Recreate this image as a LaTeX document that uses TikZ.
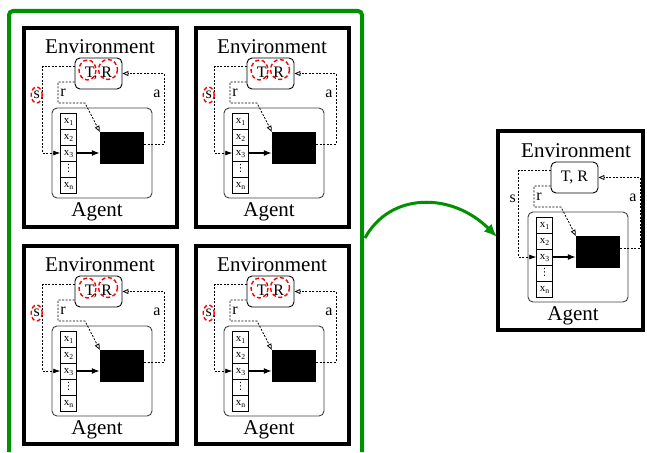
\documentclass[tikz,border=0pt]{standalone}
\usepackage{fontspec}
\setmainfont{Liberation Serif}
\newfontfamily\dotsfont{DejaVu Sans}
\usetikzlibrary{calc,arrows.meta}
\definecolor{figgreen}{RGB}{0,145,0}
\tikzset{
	frame/.style={line width=3.5pt},
	trbox/.style={draw, line width=0.9pt, rounded corners=5pt, minimum width=47pt, minimum height=31pt, inner sep=0pt, font=\fontsize{16}{16}\selectfont},
	agentbox/.style={draw=black!75, line width=0.9pt, rounded corners=5pt},
	cell/.style={draw, line width=0.8pt, minimum size=16pt, inner sep=0pt, text height=7pt, text depth=2pt, font=\fontsize{11}{11}\selectfont},
	blk/.style={fill=black, minimum width=44pt, minimum height=32pt, inner sep=0pt},
	big/.style={font=\fontsize{21}{21}\selectfont},
	lbl/.style={font=\fontsize{16}{16}\selectfont, inner sep=0pt},
	sig/.style={line width=0.8pt, dash pattern=on 2pt off 1.5pt},
	hl/.style={draw=red, line width=1.4pt, dash pattern=on 4pt off 2.5pt},
}
% one environment/agent box, contents only
\newcommand\agentpanel[3]{%
\begin{scope}[shift={(#2,#3)}]
	\node[big] (#1env) at (76,18.5) {Environment};
	\node[trbox] (#1tr) at (74.5,45.5) {T, R};
	\draw[agentbox] (28,80) rectangle (128,170);
	\foreach \i/\t in {1/{x\textsubscript{1}},2/{x\textsubscript{2}},3/{x\textsubscript{3}},4/{\dotsfont\fontsize{10}{10}\selectfont ⋮},5/{x\textsubscript{n}}}
		\node[cell] (#1x\i) at (44.7,77+16*\i) {\t};
	\node[blk] (#1blk) at (98,120) {};
	\node[big] (#1agent) at (73,184) {Agent};
	\node[lbl] (#1s) at (12.7,67) {s};
	\node[lbl] (#1r) at (39,65) {r};
	\node[lbl] (#1a) at (133,66) {a};
	\coordinate (#1sc) at (18.7,0);
	\coordinate (#1ac) at (140,0);
	\draw[sig,-{Latex[length=7pt,width=5pt]}] ($(#1tr.west)+(0,-7.5)$) -| (#1sc |- #1x3.west) -- (#1x3.west);
	\draw[sig,-{Triangle[open,length=6pt,width=5pt]}] ($(#1tr.west)+(0,8.5)$) -| (34,75) -- (61,75) -- (#1blk.north west);
	\draw[sig,-{Triangle[open,length=6pt,width=5pt]}] ($(#1blk.east)+(0,-4)$) -| (#1ac |- #1tr.east) -- (#1tr.east);
	\draw[line width=1.3pt,-{Latex[length=8pt,width=6pt]}] (#1x3.east) -- (#1x3.east -| #1blk.west);
\end{scope}}
% red marks on T, R and s
\newcommand\trmarks[1]{%
	\draw[hl] ($(#1tr)+(-11,-3.5)$) ellipse (8.5 and 10);
	\draw[hl] ($(#1tr)+(9.5,-4)$) ellipse (9.5 and 10);
	\draw[hl] (#1s) ellipse (5.5 and 8);
}

\begin{document}
\begin{tikzpicture}[x=1pt,y=-1pt]
	%%%%% START %%%%%
	\useasboundingbox (0,0) rectangle (647,452);

	\draw[figgreen, line width=4pt, rounded corners=4pt] (9,452) |- (362,11) -- (362,452);

	\agentpanel{p1}{24}{28}
	\agentpanel{p2}{196}{28}
	\agentpanel{p3}{24}{246}
	\agentpanel{p4}{196}{246}
	\agentpanel{q}{500}{132}

	\draw[frame] (24,28) rectangle (177,227);
	\draw[frame] (196,28) rectangle (349,227);
	\draw[frame] (24,246) rectangle (177,444);
	\draw[frame] (196,246) rectangle (349,444);
	\draw[frame] (498,131) rectangle (643,330);

	\trmarks{p1}
	\trmarks{p2}
	\trmarks{p3}
	\trmarks{p4}

	\draw[figgreen, line width=3pt, -{Latex[length=13pt,width=11pt]}] (365,238) .. controls (390,192) and (452,192) .. (497,237);
	%%%%% END %%%%%
\end{tikzpicture}
\end{document}
